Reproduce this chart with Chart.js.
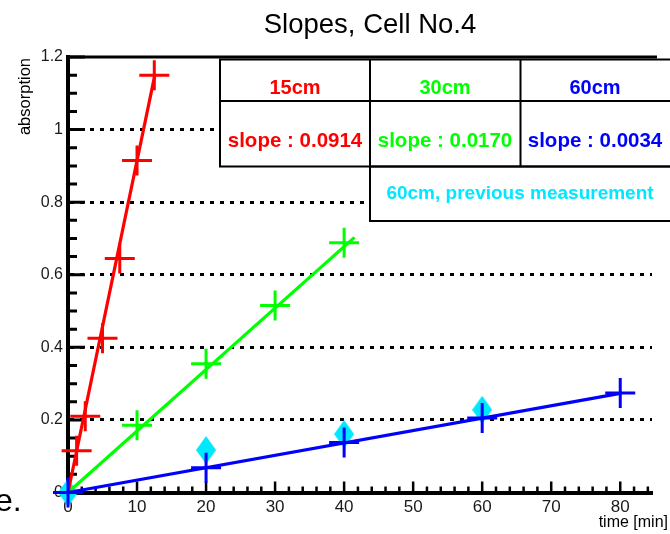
<!DOCTYPE html>
<html>
<head>
<meta charset="utf-8">
<script src="https://cdn.jsdelivr.net/npm/chart.js@4.4.1/dist/chart.umd.min.js"></script>
<style>
  html, body { margin: 0; padding: 0; background: #fff; overflow: hidden; }
  #wrap { width: 670px; height: 534px; position: relative; }
</style>
</head>
<body>
<div id="wrap"><canvas id="graficaPendientes"></canvas></div>
<script>
// valores
const tiempos15 = [1.25, 2.5, 5, 7.5, 10, 12.5];
const absorcion15 = [0.115, 0.21, 0.425, 0.645, 0.915, 1.15];
const tiempos30 = [10, 20, 30, 40];
const absorcion30 = [0.185, 0.355, 0.515, 0.688];
const tiempos60 = [0, 20, 40, 60, 80];
const absorcion60 = [0, 0.068, 0.138, 0.205, 0.274];
const tiemposPrevio = [0, 20, 40, 60];
const absorcionPrevio = [0, 0.117, 0.161, 0.228];

// rectas de ajuste (extremos)
const ajusteX15 = [0, 12.6];
const ajusteY15 = [0, 1.152];
const ajusteX30 = [0, 41.5];
const ajusteY30 = [0, 0.703];
const ajusteX60 = [0, 80];
const ajusteY60 = [0, 0.273];

const nombres = ['15cm', '30cm', '60cm'];
const pendientes = ['0.0914', '0.0170', '0.0034'];
const etiquetaPrevio = '60cm, previous measurement';
const ticksX = ['0', '10', '20', '30', '40', '50', '60', '70', '80'];
const ticksY = ['0', '0.2', '0.4', '0.6', '0.8', '1', '1.2'];

const FUENTE = '"Liberation Sans", Arial, Helvetica, sans-serif';
const colores = ['#ff0000', '#00ff00', '#0000ff'];
const CIAN = '#00e8ff';

const puntos = (xs, ys) => xs.map((x, i) => ({ x, y: ys[i] }));

function crearRombo(ancho, alto, color) {
  const c = document.createElement('canvas');
  c.width = ancho;
  c.height = alto;
  const g = c.getContext('2d');
  g.fillStyle = color;
  g.beginPath();
  g.moveTo(ancho / 2, 0);
  g.lineTo(ancho, alto / 2);
  g.lineTo(ancho / 2, alto);
  g.lineTo(0, alto / 2);
  g.closePath();
  g.fill();
  return c;
}
const rombo = crearRombo(20, 28, CIAN);

// marcas hacia dentro y marco superior (debajo de los datos)
const marcasRoot = {
  id: 'marcasRoot',
  beforeDatasetsDraw(chart) {
    const { ctx, scales: { x, y }, chartArea: a } = chart;
    ctx.save();
    ctx.strokeStyle = '#000';
    ctx.lineWidth = 3;
    ctx.beginPath();
    for (let i = 0; i <= 24; i++) {
      const py = y.getPixelForValue(i * 0.05);
      const largo = i % 4 === 0 ? 17 : 9;
      ctx.moveTo(a.left, py);
      ctx.lineTo(a.left + largo, py);
    }
    ctx.stroke();
    ctx.lineWidth = 2.5;
    ctx.beginPath();
    for (let i = 0; i <= 42; i++) {
      const px = x.getPixelForValue(i * 2);
      const largo = i % 5 === 0 ? 11 : 6;
      ctx.moveTo(px, a.bottom);
      ctx.lineTo(px, a.bottom - largo);
    }
    ctx.stroke();
    ctx.lineWidth = 3;
    ctx.beginPath();
    ctx.moveTo(a.left - 2, a.top);
    ctx.lineTo(a.right + 5, a.top);
    ctx.stroke();
    ctx.restore();
  }
};

// tabla de pendientes y textos sueltos
const textosRoot = {
  id: 'textosRoot',
  afterDatasetsDraw(chart) {
    const ctx = chart.ctx;
    ctx.save();
    ctx.strokeStyle = '#000';
    ctx.fillStyle = '#fff';
    ctx.fillRect(220, 59.5, 460, 107);
    ctx.fillRect(370, 166.5, 310, 54.5);
    ctx.lineWidth = 2;
    ctx.strokeRect(220, 59.5, 460, 107);
    ctx.strokeRect(370, 166.5, 310, 54.5);
    ctx.beginPath();
    ctx.moveTo(220, 101); ctx.lineTo(680, 101);
    ctx.moveTo(370, 59.5); ctx.lineTo(370, 166.5);
    ctx.moveTo(520.5, 59.5); ctx.lineTo(520.5, 166.5);
    ctx.stroke();

    ctx.textAlign = 'center';
    ctx.textBaseline = 'alphabetic';
    const centros = [295, 445, 595];
    nombres.forEach((n, i) => {
      ctx.fillStyle = colores[i];
      ctx.font = 'bold 20px ' + FUENTE;
      ctx.fillText(n, centros[i], 94);
      ctx.font = 'bold 20.5px ' + FUENTE;
      ctx.fillText('slope : ' + pendientes[i], centros[i], 147);
    });
    ctx.fillStyle = CIAN;
    ctx.font = 'bold 19px ' + FUENTE;
    ctx.fillText(etiquetaPrevio, 520, 199);

    ctx.fillStyle = '#000';
    ctx.font = '27.5px ' + FUENTE;
    ctx.fillText('Slopes, Cell No.4', 370, 33);
    ctx.textAlign = 'right';
    ctx.font = '16px ' + FUENTE;
    ctx.fillText('time [min]', 668, 527);
    ctx.save();
    ctx.translate(30, 58);
    ctx.rotate(-Math.PI / 2);
    ctx.font = '16.5px ' + FUENTE;
    ctx.fillText('absorption', 0, 0);
    ctx.restore();
    ctx.textAlign = 'left';
    ctx.font = '32px ' + FUENTE;
    ctx.fillText('e.', -5, 511);
    ctx.restore();
  }
};

const lineaAjuste = (xs, ys, color, orden) => ({
  data: puntos(xs, ys),
  showLine: true,
  borderColor: color,
  borderWidth: 3.2,
  pointRadius: 0,
  clip: false,
  order: orden
});
const cruces = (xs, ys, color, orden) => ({
  data: puntos(xs, ys),
  showLine: false,
  pointStyle: 'cross',
  pointRadius: 15,
  borderColor: color,
  backgroundColor: color,
  pointBorderWidth: 3,
  clip: false,
  order: orden
});

new Chart(document.getElementById('graficaPendientes'), {
  type: 'scatter',
  data: {
    datasets: [
      cruces(tiempos60, absorcion60, colores[2], 0),
      lineaAjuste(ajusteX60, ajusteY60, colores[2], 1),
      cruces(tiempos15, absorcion15, colores[0], 2),
      lineaAjuste(ajusteX15, ajusteY15, colores[0], 3),
      cruces(tiempos30, absorcion30, colores[1], 4),
      lineaAjuste(ajusteX30, ajusteY30, colores[1], 5),
      {
        data: puntos(tiemposPrevio, absorcionPrevio),
        pointStyle: rombo,
        pointRadius: 10,
        clip: false,
        order: 10
      }
    ]
  },
  options: {
    responsive: true,
    maintainAspectRatio: false,
    animation: false,
    events: [],
    layout: { padding: { top: 57, left: 0, right: 0, bottom: 0 } },
    plugins: { legend: { display: false }, tooltip: { enabled: false }, title: { display: false } },
    scales: {
      x: {
        type: 'linear',
        min: 0,
        max: 84.6,
        afterFit: s => { s.height = 41.5; },
        border: { color: '#000', width: 4 },
        grid: { display: false, drawTicks: false },
        ticks: {
          stepSize: 10,
          includeBounds: false,
          autoSkip: false,
          maxRotation: 0,
          padding: 5,
          color: '#1a1a1a',
          font: { family: FUENTE, size: 17 },
          callback: (v, i) => ticksX[i] ?? ''
        }
      },
      y: {
        type: 'linear',
        min: 0,
        max: 1.2,
        afterFit: s => { s.width = 68; },
        border: { color: '#000', width: 4, dash: [4, 6] },
        grid: {
          drawTicks: false,
          lineWidth: 3,
          color: c => (c.tick && c.tick.value > 0.01 && c.tick.value < 1.19) ? '#000' : 'rgba(0,0,0,0)'
        },
        ticks: {
          stepSize: 0.2,
          autoSkip: false,
          padding: 5,
          color: '#1a1a1a',
          font: { family: FUENTE, size: 16 },
          callback: (v, i) => ticksY[i] ?? ''
        }
      }
    }
  },
  plugins: [marcasRoot, textosRoot]
});
</script>
</body>
</html>
